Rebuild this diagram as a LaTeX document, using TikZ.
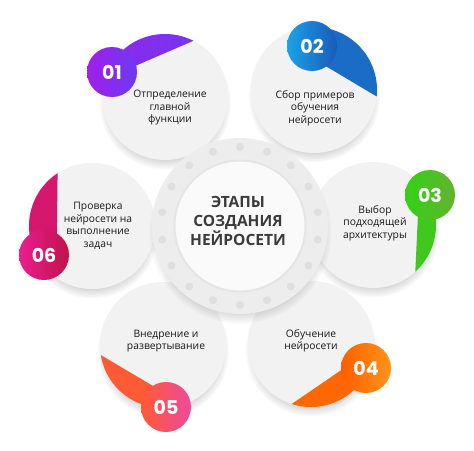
\documentclass[tikz,border=0pt]{standalone}
\usepackage{fontspec}
\setmainfont{Open Sans}
\newfontfamily\zahlfont{Poppins}
\usetikzlibrary{calc}
\usetikzlibrary{shadows}
\definecolor{kreisgrau}{HTML}{F2F2F2}
\definecolor{ringgrau}{HTML}{EDEDED}
\definecolor{schrift}{HTML}{3B3B3B}
\definecolor{lilaA}{HTML}{A21EEA}
\definecolor{lilaB}{HTML}{6C3AF0}
\definecolor{blauA}{HTML}{1AA3E8}
\definecolor{blauB}{HTML}{1A5AB8}
\definecolor{gruenA}{HTML}{33D116}
\definecolor{gruenB}{HTML}{62B430}
\definecolor{orangeA}{HTML}{FF5E00}
\definecolor{orangeB}{HTML}{FF9418}
\definecolor{rotA}{HTML}{FF5A36}
\definecolor{rotB}{HTML}{EE4A9C}
\definecolor{pinkA}{HTML}{EA1E8E}
\definecolor{pinkB}{HTML}{C0124C}
\tikzset{
  Kreis/.style={circle, fill=kreisgrau, minimum size=126pt, inner sep=0pt,
    circular drop shadow={shadow xshift=0pt, shadow yshift=-6pt, shadow scale=1.05, opacity=.3}}, % Stationen
  Nummer/.style 2 args={circle, minimum size=50pt, inner sep=0pt, left color=#1, right color=#2,
    text=white, font=\zahlfont\bfseries\fontsize{19}{19}\selectfont}, % Nummernkreise
  Text/.style={align=center, text=black!90, font=\fontsize{10.3}{12.5}\selectfont} % Beschriftung
}
\begin{document}
\begin{tikzpicture}[x=1pt, y=-1pt]
\fill[white] (0,0) rectangle (474,450);
\useasboundingbox (0,0) rectangle (474,450);

%Stationen
\node[Kreis] (s1) at (165,97) {};
\node[Kreis] (s2) at (314,90) {};
\node[Kreis] (s3) at (373,225) {};
\node[Kreis] (s4) at (311,344) {};
\node[Kreis] (s5) at (163,345) {};
\node[Kreis] (s6) at (92,226) {};

%Mittelpunkte der Nummern
\coordinate (m1) at (112,72);
\coordinate (m2) at (312,46);
\coordinate (m3) at (430,195);
\coordinate (m4) at (366,368);
\coordinate (m5) at (166,407);
\coordinate (m6) at (44,255);

%Fahnen
\begin{scope}
  \clip (s1.center) circle (63pt);
  \shade[left color=lilaA, right color=lilaB] (s1.63) -- ($(m1)+(15:25pt)$) -- (m1) -- ($(s1.center)!2.5!(m1)$) -- ($(s1.center)!2.5!(s1.63)$) -- cycle;
\end{scope}
\begin{scope}
  \clip (s2.center) circle (63pt);
  \fill[blauA!25!blauB] (s2.-6) -- ($(m2)+(-55:25pt)$) -- (m2) -- ($(s2.center)!2.5!(m2)$) -- ($(s2.center)!2.5!(s2.-6)$) -- cycle;
\end{scope}
\begin{scope}
  \clip (s3.center) circle (63pt);
  \fill[gruenA!70!gruenB] (s3.-48) -- ($(m3)+(-119:25pt)$) -- (m3) -- ($(s3.center)!2.5!(m3)$) -- ($(s3.center)!2.5!(s3.-48)$) -- cycle;
\end{scope}
\begin{scope}
  \clip (s4.center) circle (63pt);
  \fill[orangeA!85!orangeB] (s4.-108) -- ($(m4)+(185:25pt)$) -- (m4) -- ($(s4.center)!2.5!(m4)$) -- ($(s4.center)!2.5!(s4.-108)$) -- cycle;
\end{scope}
\begin{scope}
  \clip (s5.center) circle (63pt);
  \fill[rotA] (s5.189) -- ($(m5)+(122:25pt)$) -- (m5) -- ($(s5.center)!2.5!(m5)$) -- ($(s5.center)!2.5!(s5.189)$) -- cycle;
\end{scope}
\begin{scope}
  \clip (s6.center) circle (63pt);
  \fill[pinkA!50!pinkB] (s6.123) -- ($(m6)+(59:25pt)$) -- (m6) -- ($(s6.center)!2.5!(m6)$) -- ($(s6.center)!2.5!(s6.123)$) -- cycle;
\end{scope}

%Mitte
\node[circle, minimum size=176pt, inner sep=0pt, fill=ringgrau,
  circular drop shadow={shadow xshift=0pt, shadow yshift=-6pt, shadow scale=1.04, opacity=.35}] (ring) at (240,226) {};
\node[circle, minimum size=131pt, inner sep=0pt, fill=white!60!kreisgrau, draw=gray!20, line width=2pt] (innen) at (ring) {};
\foreach \w in {90,110,...,430}
  \fill[gray!25] ($(ring.center)+(\w:79pt)$) circle (4pt);
\node[align=center, text=schrift, font=\bfseries\fontsize{15.5}{19}\selectfont] (titel) at (238,221) {ЭТАПЫ\\СОЗДАНИЯ\\НЕЙРОСЕТИ};

%Nummern
\node[Nummer={lilaA}{lilaB}] (n1) at (m1) {01};
\node[Nummer={blauA}{blauB}] (n2) at (m2) {02};
\node[Nummer={gruenA}{gruenB}] (n3) at (m3) {03};
\node[Nummer={orangeA}{orangeB}] (n4) at (m4) {04};
\node[Nummer={rotA}{rotB}] (n5) at (m5) {05};
\node[Nummer={pinkA}{pinkB}] (n6) at (m6) {06};

%Beschriftung
\node[Text] (l1) at (170,108) {Отпределение\\главной\\функции};
\node[Text] (l2) at (315,108) {Сбор примеров\\обучения\\нейросети};
\node[Text] (l3) at (375,223) {Выбор\\подходящей\\архитектуры};
\node[Text] (l4) at (311,341) {Обучение\\нейросети};
\node[Text] (l5) at (166,341) {Внедрение и\\развертывание};
\node[Text] (l6) at (98,226) {Проверка\\нейросети на\\выполнение\\задач};

\end{tikzpicture}
\end{document}
